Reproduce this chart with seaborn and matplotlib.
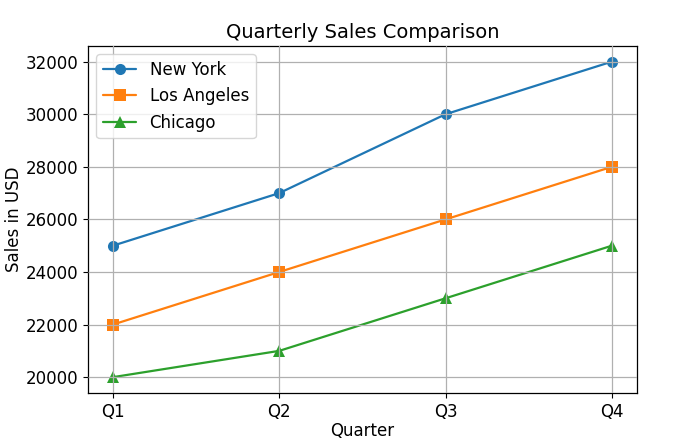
import pandas as pd
import seaborn as sns
from matplotlib import pyplot as plt

# data
quarters = ["Q1", "Q2", "Q3", "Q4"]
new_york = [25000, 27000, 30000, 32000]
los_angeles = [22000, 24000, 26000, 28000]
chicago = [20000, 21000, 23000, 25000]

cities = ["New York", "Los Angeles", "Chicago"]
series = [new_york, los_angeles, chicago]

rows = []
for city, values in zip(cities, series):
    for q, v in zip(quarters, values):
        rows.append({"Quarter": q, "Sales": v, "City": city})
df = pd.DataFrame(rows)

sns.set_style("ticks")
plt.rcParams["font.family"] = ["DejaVu Sans"]
plt.rcParams["text.color"] = "black"
plt.rcParams["axes.labelcolor"] = "black"
plt.rcParams["xtick.color"] = "black"
plt.rcParams["ytick.color"] = "black"

fig = plt.figure(figsize=(6.87, 4.41), dpi=100)
ax = fig.add_axes([0.128, 0.109, 0.799, 0.787])

palette = ["#1f77b4", "#ff7f0e", "#2ca02c"]
sns.lineplot(data=df, x="Quarter", y="Sales", hue="City", style="City",
             markers=["o", "s", "^"], dashes=False, palette=palette,
             markersize=8, markeredgewidth=0, linewidth=1.6, ax=ax)

ax.grid(True, color="#b0b0b0", linewidth=0.9)
ax.set_axisbelow(False)
for s in ax.spines.values():
    s.set_visible(True)
    s.set_color("black")
    s.set_linewidth(0.9)

handles, labels = ax.get_legend_handles_labels()
leg = ax.legend(handles, labels, loc="upper left", fontsize=12, framealpha=0.8)
leg.get_frame().set_edgecolor("#cccccc")

ax.set_title("Quarterly Sales Comparison", fontsize=14)
ax.set_xlabel("Quarter", fontsize=12, labelpad=1)
ax.set_ylabel("Sales in USD", fontsize=12, labelpad=2)
ax.tick_params(labelsize=12)

fig.savefig("out.png", dpi=100)
